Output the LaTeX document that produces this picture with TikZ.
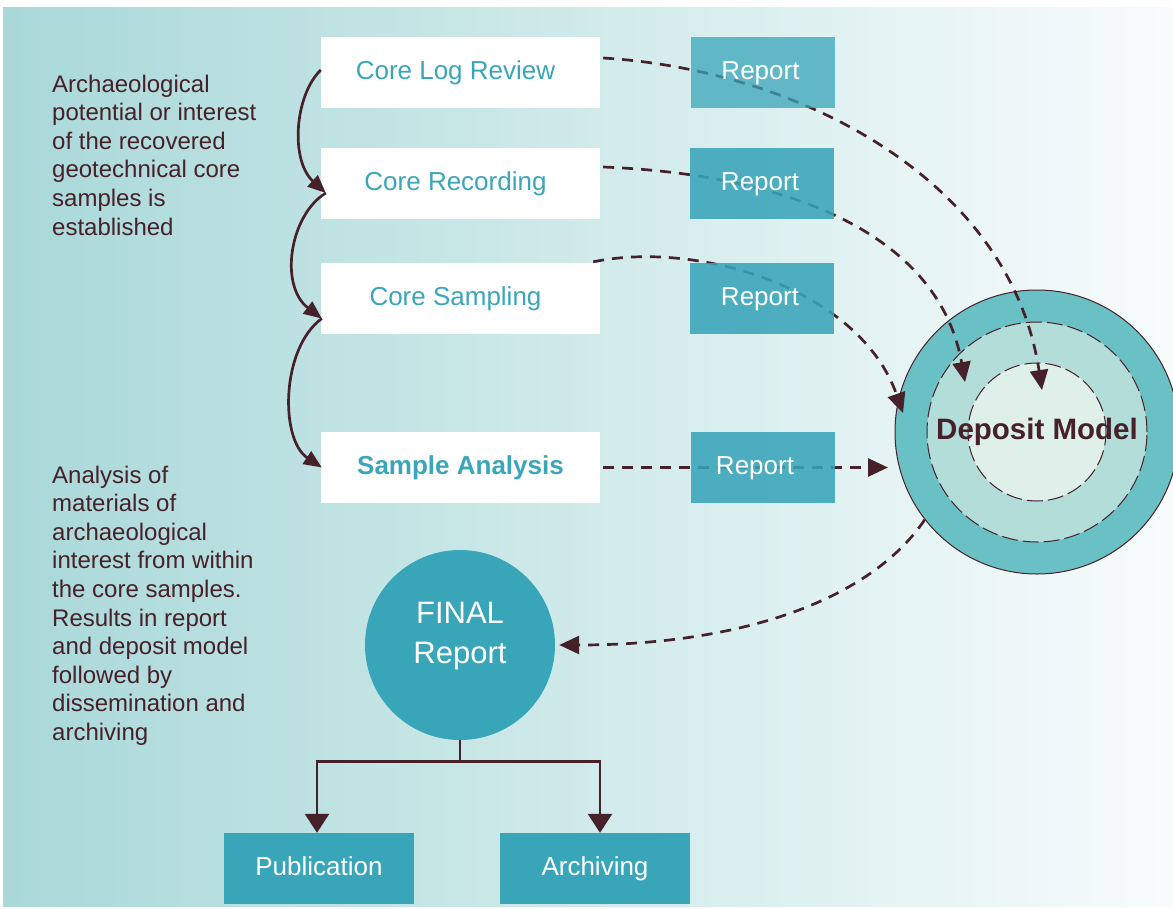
\documentclass[tikz,border=0pt]{standalone}
\usepackage{fontspec}
\setmainfont{Liberation Sans}
\usetikzlibrary{arrows.meta}
\definecolor{bgL}{HTML}{A9D8D9}
\definecolor{bgR}{HTML}{F8FCFC}
\definecolor{tealbox}{HTML}{38A5B9}
\definecolor{ink}{HTML}{46212A}
\definecolor{coretxt}{HTML}{3AA6B9}
\definecolor{ringA}{HTML}{69C1C5}
\definecolor{ringB}{HTML}{B3DDD8}
\definecolor{ringC}{HTML}{DFEFEA}
\begin{document}
\begin{tikzpicture}[x=1pt,y=-1pt,
  boxfont/.style={font=\fontsize{26}{31}\selectfont, text height=19pt, text depth=5.5pt, inner sep=0pt},
  corebox/.style={boxfont, fill=white, minimum width=279pt, minimum height=71pt, text=coretxt},
  repbox/.style={boxfont, fill=tealbox, fill opacity=0.88, text opacity=1, text=white, minimum width=144pt, minimum height=71pt},
  botbox/.style={boxfont, fill=tealbox, text=white, minimum width=190pt, minimum height=71pt},
  note/.style={align=left, anchor=north west, inner sep=0pt, text=ink, font=\fontsize{24}{28.6}\selectfont},
  dashline/.style={draw=ink, line width=2.7pt, dash pattern=on 11pt off 8pt, -{Triangle[length=20pt,width=18pt]}},
  curvearrow/.style={draw=ink, line width=2.7pt, -{Triangle[length=18pt,width=15pt]}},
  treeline/.style={draw=ink, line width=2.7pt},
  treearrow/.style={draw=ink, line width=2.7pt, -{Triangle[length=19pt,width=24pt]}},
  ring/.style={circle, inner sep=0pt, draw=ink, line width=1pt}
]
\useasboundingbox (0,0) rectangle (1173,908);
\fill[white] (0,0) rectangle (1173,908);
\shade[left color=bgL, right color=bgR] (3,7) rectangle (1173,906);

% notes
\node[note] (n1) at (52,74.5) {Archaeological\\potential or interest\\of the recovered\\geotechnical core\\samples is\\established};
\node[note] (n2) at (52,465.5) {Analysis of\\materials of\\archaeological\\interest from within\\the core samples.\\Results in report\\and deposit model\\followed by\\dissemination and\\archiving};

% deposit model rings
\node[ring, fill=ringA, minimum size=284pt] (dm) at (1037,432) {};
\node[ring, fill=ringB, minimum size=220pt, dash pattern=on 16pt off 5pt] (dmb) at (dm.center) {};
\node[ring, fill=ringC, minimum size=138pt, dash pattern=on 16pt off 5pt] (dmc) at (dm.center) {};
\node[text=ink, font=\fontsize{29.5}{34}\selectfont\bfseries, inner sep=0pt] (dmt) at (dm.center) {Deposit Model};

% core boxes
\node[corebox] (clr) at (460.5,72.5) {\kern-10pt Core Log Review};
\node[corebox] (crec) at (460.5,183.5) {\kern-10pt Core Recording};
\node[corebox] (cs) at (460.5,298.5) {\kern-10pt Core Sampling};
\node[corebox, font=\fontsize{26}{31}\selectfont\bfseries] (sa) at (460.5,467.5) {Sample Analysis};

% final report
\node[circle, fill=tealbox, minimum size=190pt, inner sep=0pt] (fin) at (460,645) {};
\node[text=white, align=center, inner sep=0pt, font=\fontsize{31}{40}\selectfont] (fint) at ([yshift=9pt]fin.center) {FINAL\\Report};

\node[botbox] (pub) at (319,868.5) {Publication};
\node[botbox] (arc) at (595,868.5) {Archiving};

% end points of dashed arrows
\coordinate (e1) at (1042,390);
\coordinate (e2) at (965,382);
\coordinate (e3) at (903,413);
\coordinate (e4) at (888,467.5);

% dashed arrows
\draw[dashline] ([xshift=3pt,yshift=14.5pt]clr.east) .. controls +(197,12) and +(-32,-210) .. (e1);
\draw[dashline] ([xshift=3pt,yshift=16.5pt]crec.east) .. controls +(197,8) and +(-25,-142) .. (e2);
\draw[dashline] ([xshift=-7pt,yshift=1pt]cs.north east) .. controls +(107,-22) and +(-43,-123) .. (e3);
\draw[dashline] ([xshift=3pt]sa.east) -- (e4);
\draw[dashline] (dm.218) .. controls +(-55,81) and +(181,0) .. ([xshift=4pt]fin.east);

% report boxes
\node[repbox, fill opacity=0.75] (r1) at (763,72.5) {\kern-5pt Report};
\node[repbox] (r2) at (762,183.5) {\kern-4pt Report};
\node[repbox] (r3) at (762,298.5) {\kern-4pt Report};
\node[repbox] (r4) at (763,467.5) {\kern-16pt Report};

% solid curved arrows
\coordinate (p1) at ([yshift=2.5pt]clr.west);
\coordinate (p2) at ([xshift=5pt,yshift=-9.5pt]crec.west);
\coordinate (p3) at ([xshift=1pt,yshift=-20pt]cs.west);
\coordinate (p4) at ([xshift=1pt]sa.west);
\draw[curvearrow] (p1) .. controls +(-26,25) and +(-36,-33) .. (p2);
\draw[curvearrow] (p2) .. controls +(-36,22) and +(-43,-33) .. (p3);
\draw[curvearrow] (p3) .. controls +(-41,30) and +(-42,-28) .. (p4);

% tree
\coordinate (j) at ([yshift=-21pt]fin.south);
\draw[treeline] (fin.south) -- (j);
\draw[treearrow] (j) -| ([xshift=-2pt]pub.north);
\draw[treearrow] (j) -| ([xshift=5pt]arc.north);
\end{tikzpicture}
\end{document}
